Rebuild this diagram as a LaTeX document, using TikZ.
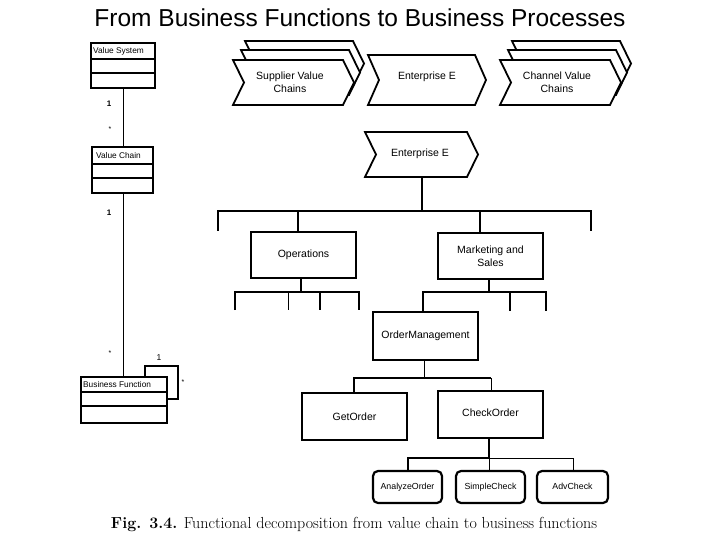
\documentclass[tikz,border=0pt]{standalone}
\usepackage{fontspec}
\newfontfamily\lsans{Liberation Sans}
\begin{document}
\begin{tikzpicture}[x=1pt,y=-1pt,
  thk/.style={line width=2.6pt},
  thn/.style={line width=1pt},
  lbl/.style={font=\lsans\fontsize{10.5}{12.5}\selectfont,align=center,inner sep=0pt},
  sm/.style={font=\lsans\fontsize{8.3}{9}\selectfont,inner sep=0pt,anchor=west},
  box/.style={draw,line width=2.2pt,font=\lsans\fontsize{10.5}{12.5}\selectfont,align=center},
  rbox/.style={draw,line width=2.2pt,rounded corners=5pt,font=\lsans\fontsize{8.8}{10}\selectfont,text height=7pt,text depth=2pt}]
\useasboundingbox (0,0) rectangle (720,540);
\node[font=\lsans\fontsize{24.5}{28}\selectfont] (title) at (360,18) {From Business Functions to Business Processes};
% chevrons
\newcommand{\chev}[4]{\draw[line width=1.8pt,fill=white] (#1,#2) -- (#3,#2) -- (#3+11,{(#2+#4)/2}) -- (#3,#4) -- (#1,#4) -- (#1+11,{(#2+#4)/2}) -- cycle;}
\chev{245}{41}{353}{86}
\chev{241}{50}{349}{95}
\chev{233}{60}{343}{105}
\node[lbl] (sup) at (290,82) {Supplier Value\\Chains};
\chev{368}{55}{475}{105}
\node[lbl] (ent1) at (427,77) {Enterprise E};
\chev{512}{41}{620}{86}
\chev{508}{50}{616}{95}
\chev{500}{60}{610}{105}
\node[lbl] (chan) at (557,82) {Channel Value\\Chains};
\chev{365}{132}{467}{177}
\node[lbl] (ent2) at (420,154) {Enterprise E};
\coordinate (e2b) at (422,177);
% UML
\newcommand{\uml}[6]{%
 \draw[line width=2pt] (#1,#2) rectangle (#3,#4);
 \draw[line width=1.6pt] (#1,#5) -- (#3,#5) (#1,#6) -- (#3,#6);}
\uml{91}{43}{155}{88}{59}{73}
\node[sm] (vs) at (93,51) {Value System};
\uml{92}{147}{153}{193}{164}{178}
\node[sm] (vc) at (96,156) {Value Chain};
\draw[line width=2pt] (145,377) -- (145,366) -- (178,366) -- (178,399) -- (167,399);
\uml{81}{377}{167}{423}{392}{406}
\node[sm] (bf) at (83,385) {Business Function};
\draw[thn] (123,88) -- (123,147);
\draw[thn] (123,193) -- (123,377);
\node[font=\lsans\bfseries\fontsize{8}{9}\selectfont] (m1) at (109,104) {1};
\node[font=\lsans\fontsize{7}{8}\selectfont] (m2) at (110,129) {*};
\node[font=\lsans\bfseries\fontsize{8}{9}\selectfont] (m3) at (109,213) {1};
\node[font=\lsans\fontsize{7}{8}\selectfont] (m4) at (110,353) {*};
\node[font=\lsans\fontsize{8.5}{9}\selectfont] (m5) at (159,358) {1};
\node[font=\lsans\fontsize{7}{8}\selectfont] (m6) at (183,382) {*};
% tree
\node[box,minimum width=105pt,minimum height=46pt] (ops) at (303.5,255) {Operations};
\node[box,minimum width=105pt,minimum height=46pt] (mkt) at (490.5,256) {Marketing and\\Sales};
\node[box,minimum width=105pt,minimum height=48pt] (om) at (425.5,336) {OrderManagement};
\node[box,minimum width=105pt,minimum height=47pt] (get) at (354.5,416.5) {GetOrder};
\node[box,minimum width=105pt,minimum height=47pt] (chk) at (490.5,414.5) {};
\node[lbl] (chkt) at (490.5,413) {CheckOrder};
\node[rbox,minimum width=69pt,minimum height=32pt] (ao) at (407.5,487) {AnalyzeOrder};
\node[rbox,minimum width=69pt,minimum height=32pt] (sc) at (490.5,487) {SimpleCheck};
\node[rbox,minimum width=71pt,minimum height=32pt] (ac) at (572.5,487) {AdvCheck};
\draw[thk] (e2b) -- (422,211);
\draw[thk] (218,231) -- (218,211) -- (591,211) -- (591,231);
\draw[thk] (298,211) -- (ops.north -| 298,0);
\draw[thk] (480,211) -- (mkt.north -| 480,0);
\draw[thk] (ops.south -| 301,0) -- (301,292);
\draw[thk] (235,310) -- (235,292) -- (359,292) -- (359,310);
\draw[thn] (288,292) -- (288,310);
\draw[thk] (320,292) -- (320,310);
\draw[thk] (mkt.south -| 489,0) -- (489,292);
\draw[thk] (om.north -| 423,0) -- (423,292) -- (546,292) -- (546,311);
\draw[thk] (510,292) -- (510,311);
\draw[thn] (om.south -| 424,0) -- (424,378);
\draw[thk] (get.north -| 354,0) -- (354,378) -- (491,378);
\draw[thn] (491,378) -- (chk.north -| 491,0);
\draw[thk] (chk.south -| 489,0) -- (489,458);
\draw[thk] (ao.north -| 408,0) -- (408,458) -- (489,458);
\draw[thn] (489,458) -- (573,458) -- (ac.north -| 573,0);
\draw[thn] (489,458) -- (sc.north -| 489,0);
\node[font=\fontsize{16}{18}\selectfont] (cap) at (354,524) {\textbf{Fig. 3.4.} Functional decomposition from value chain to business functions};
\end{tikzpicture}
\end{document}
